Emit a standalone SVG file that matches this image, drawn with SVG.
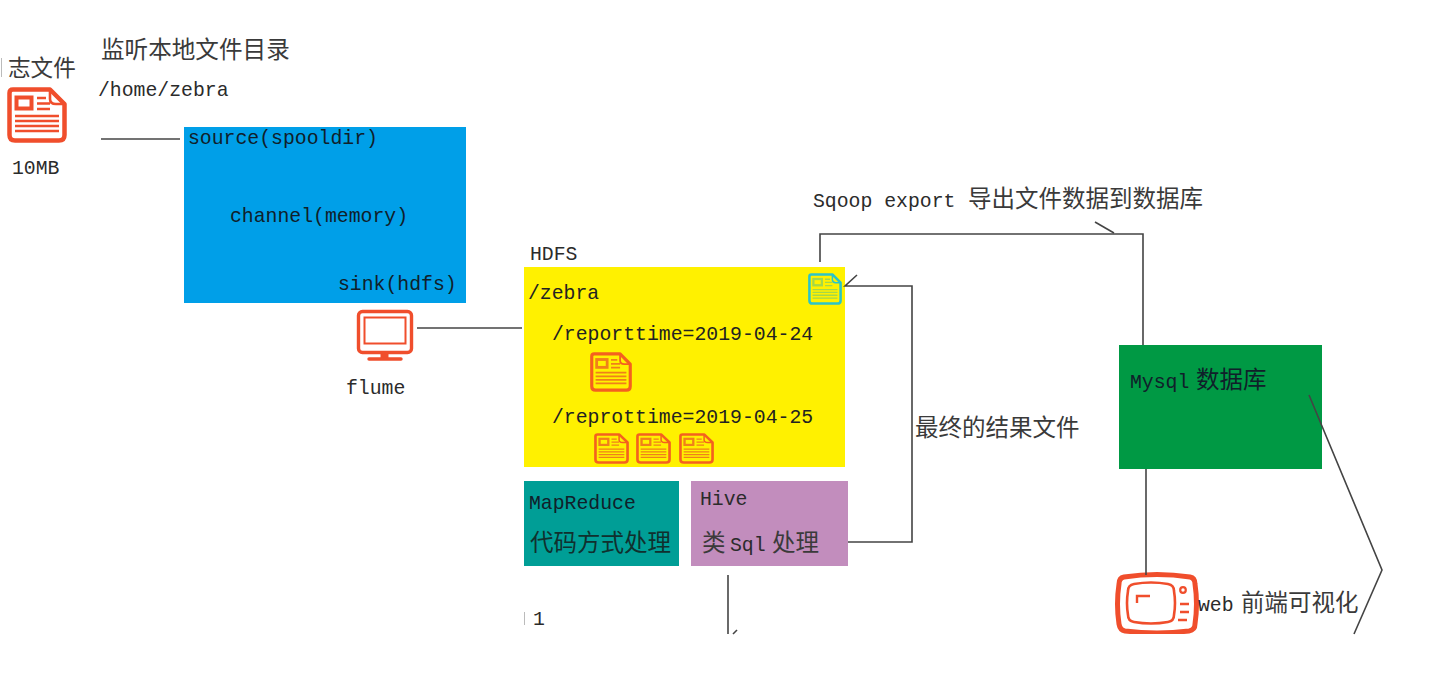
<svg xmlns="http://www.w3.org/2000/svg" width="1436" height="686" viewBox="0 0 1436 686">
<style>
text{font-family:"Liberation Mono","Noto Sans CJK SC",monospace;font-size:19.800px;fill:#2b2b2b}
.c{font-family:"Noto Sans CJK SC","Noto Sans",sans-serif;font-size:23.500px;fill:#3a3a3a}
.d{fill:#10202a}
.conn{fill:none;stroke:#444;stroke-width:1.6}
.red{color:#f04e2c}
.org{color:#f4611f;--inner:#f0801a}
.cy{color:#2cc4c8;--inner:#a3d84a}
</style>
<defs>
<symbol id="doc" viewBox="0 0 60 56" preserveAspectRatio="none">
<path d="M6 2.500H43L57.500 17V48Q57.500 53.500 52 53.500H8Q2.500 53.500 2.500 48V6Q2.500 2.500 6 2.500Z" fill="none" stroke="currentColor" stroke-width="4.500" stroke-linejoin="round"/>
<path d="M43 3V12Q43 17 49 17H57" fill="none" stroke="currentColor" stroke-width="2.600"/>
<rect x="9.500" y="10.500" width="15" height="11" fill="none" stroke="var(--inner,currentColor)" stroke-width="4"/>
<path d="M30 11H39M30 16.500H43M30 22H43M8 29H52M8 34H52M8 39H52M8 44H52" fill="none" stroke="var(--inner,currentColor)" stroke-width="2.400"/>
</symbol>
</defs>
<rect width="1436" height="686" fill="#fff"/>

<g id="logfile">
<path d="M1.500 58V77" fill="none" stroke="#bbb" stroke-width="1"/>
<text class="c" x="8" y="76" style="font-size:22.600px">志文件</text>
<use href="#doc" class="red" x="7" y="87" width="60" height="56"/>
<text x="12" y="174">10MB</text>
</g>

<g id="watch-label">
<text class="c" x="101" y="58" style="font-size:23.600px">监听本地文件目录</text>
<text x="98" y="96">/home/zebra</text>
</g>

<g id="flume-agent">
<rect x="184" y="127" width="282" height="176" fill="#009fe8"/>
<text class="d" x="188" y="144">source(spooldir)</text>
<text class="d" x="230" y="222">channel(memory)</text>
<text class="d" x="338" y="290">sink(hdfs)</text>
</g>

<g id="flume">
<rect x="358.500" y="311.500" width="53" height="41" rx="4" fill="none" stroke="#f04e2c" stroke-width="3.400"/>
<rect x="364.500" y="317.500" width="41" height="26" fill="none" stroke="#f04e2c" stroke-width="2"/>
<path d="M384.500 353V358" stroke="#f04e2c" stroke-width="8" fill="none"/>
<path d="M369 359H401" stroke="#f04e2c" stroke-width="3.400" stroke-linecap="round" fill="none"/>
<text x="346" y="394">flume</text>
</g>

<g id="hdfs">
<text x="530" y="260">HDFS</text>
<rect x="524" y="267" width="321" height="200" fill="#fff100"/>
<text x="528" y="299" style="fill:#222">/zebra</text>
<text x="552" y="340" style="fill:#222">/reporttime=2019-04-24</text>
<text x="552" y="423" style="fill:#222">/reprottime=2019-04-25</text>
<use href="#doc" class="cy" x="808" y="273" width="34" height="32"/>
<use href="#doc" class="org" x="590" y="352" width="42" height="40"/>
<use href="#doc" class="org" x="594" y="433" width="35" height="31"/>
<use href="#doc" class="org" x="636" y="433" width="35" height="31"/>
<use href="#doc" class="org" x="679" y="433" width="35" height="31"/>
</g>

<g id="mapreduce">
<rect x="524" y="481" width="155" height="85" fill="#009e96"/>
<text class="d" x="529" y="509">MapReduce</text>
<text class="c" x="530" y="551" style="fill:#10302e">代码方式处理</text>
</g>

<g id="hive">
<rect x="691" y="481" width="157" height="85" fill="#c28dbd"/>
<text x="700" y="505">Hive</text>
<text x="702" y="551"><tspan class="c">类</tspan><tspan x="730">Sql</tspan><tspan class="c" x="772">处理</tspan></text>
</g>

<g id="result-label"><text class="c" x="915" y="436">最终的结果文件</text></g>
<g id="sqoop-label"><text x="813" y="207">Sqoop export<tspan class="c" x="968">导出文件数据到数据库</tspan></text></g>

<g id="mysql">
<rect x="1119" y="345" width="203" height="124" fill="#009944"/>
<text class="d" x="1130" y="388">Mysql<tspan class="c" x="1196" style="fill:#10202a">数据库</tspan></text>
</g>

<g id="web">
<path d="M1124 577Q1157 572 1190 577Q1195 578 1195 584Q1198 604 1195 624Q1195 630 1189 631Q1157 635 1125 631Q1120 630 1119 624Q1116 604 1119 584Q1119 578 1124 577Z" fill="none" stroke="#f04e2c" stroke-width="5"/>
<path d="M1134 584Q1151 581 1168 584Q1174 585 1174 591Q1176 603 1174 615Q1174 621 1168 622Q1151 625 1134 622Q1128 621 1128 615Q1126 603 1128 591Q1128 585 1134 584Z" fill="none" stroke="#f04e2c" stroke-width="2.600"/>
<path d="M1137 603V596H1150" fill="none" stroke="#f04e2c" stroke-width="2.400"/>
<circle cx="1183" cy="590" r="2.800" fill="none" stroke="#f04e2c" stroke-width="2.200"/>
<path d="M1180 604H1189M1180 612H1189M1178 620H1187" fill="none" stroke="#f04e2c" stroke-width="2.400"/>
<rect x="1100" y="634" width="120" height="6" fill="#fff"/>
<text x="1198" y="611">web<tspan class="c" x="1241">前端可视化</tspan></text>
</g>

<g id="clipped-label"><text x="533" y="625">1</text></g>

<g id="connectors">
<path class="conn" d="M101 139H180"/>
<path class="conn" d="M417 328H522"/>
<path class="conn" d="M820 262V234H1143V345"/>
<path class="conn" d="M1095 222L1114 233"/>
<path class="conn" d="M848 542H912V286H845L857 275"/>
<path class="conn" d="M728 575V634"/>
<path class="conn" d="M733 634L737 630"/>
<path class="conn" d="M1146 469V575"/>
<path class="conn" d="M1309 395L1382 570L1354 634"/>
<path d="M524.500 612V625" fill="none" stroke="#bbb" stroke-width="1"/>
</g>
</svg>
